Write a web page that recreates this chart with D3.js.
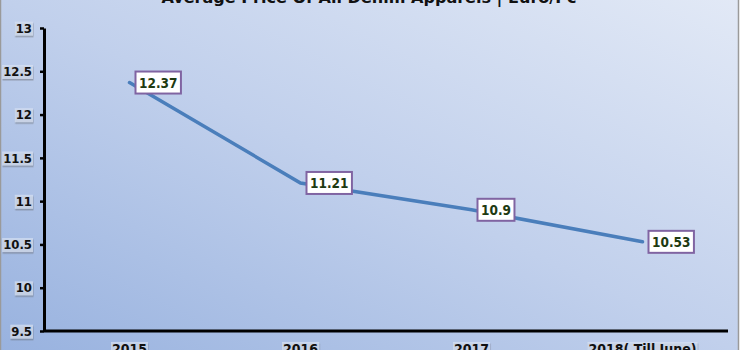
<!DOCTYPE html>
<html>
<head>
<meta charset="utf-8">
<script src="https://cdn.jsdelivr.net/npm/d3@7"></script>
<style>
body { margin: 0; background: #fff; }
svg { display: block; }
</style>
</head>
<body>
<svg></svg>
<script>
var title = 'Average Price Of All Denim Apparels | Euro/Pc';
var years = ['2015', '2016', '2017', '2018( Till June)'];
var prices = [12.37, 11.21, 10.9, 10.53];
var yTicks = [9.5, 10, 10.5, 11, 11.5, 12, 12.5, 13];

var width = 740, height = 350;
var font = '"DejaVu Sans Condensed", "DejaVu Sans", sans-serif';

let svg = d3.select('svg').attr('width', width).attr('height', height);

// background gradient + drop shadow for the label chips
let defs = svg.append('defs');
let grad = defs.append('linearGradient')
	.attr('id', 'bg')
	.attr('x1', '0').attr('y1', '1')
	.attr('x2', '1').attr('y2', '0');
grad.append('stop').attr('offset', '0').attr('stop-color', '#98b2df');
grad.append('stop').attr('offset', '0.5').attr('stop-color', '#c1d0ec');
grad.append('stop').attr('offset', '1').attr('stop-color', '#e2e9f6');

defs.append('filter')
	.attr('id', 'chip')
	.attr('x', '-20%').attr('y', '-20%')
	.attr('width', '150%').attr('height', '160%')
	.append('feDropShadow')
	.attr('dx', 0.5).attr('dy', 1.5)
	.attr('stdDeviation', 0.7)
	.attr('flood-color', '#555')
	.attr('flood-opacity', 0.6);

svg.append('rect')
	.attr('x', 0.5).attr('y', -2)
	.attr('width', 738).attr('height', height + 4)
	.attr('fill', 'url(#bg)')
	.attr('stroke', '#9a9a9a')
	.attr('stroke-width', 1.5);

// title (cut off at the top like the original)
svg.append('text')
	.attr('x', 369).attr('y', 3)
	.attr('text-anchor', 'middle')
	.attr('textLength', 415)
	.attr('lengthAdjust', 'spacingAndGlyphs')
	.style('font-family', font)
	.style('font-weight', 'bold')
	.style('font-size', '15px')
	.attr('fill', '#111')
	.text(title);

// scales
let x = d3.scaleBand().domain(years).range([44, 728]);
let y = d3.scaleLinear().domain([9.5, 13]).range([331, 28]);
let cx = (d) => x(d) + x.bandwidth() / 2;

// axes
let yAxis = svg.append('g')
	.attr('transform', 'translate(44,0)')
	.call(d3.axisLeft(y).tickValues(yTicks).tickFormat((d) => d).tickSize(4).tickSizeOuter(0).tickPadding(8));

let xAxis = svg.append('g')
	.attr('transform', 'translate(0,331)')
	.call(d3.axisBottom(x).tickSize(0).tickSizeOuter(0).tickPadding(13));

[yAxis, xAxis].forEach((g) => {
	g.select('.domain').attr('stroke', '#000').attr('stroke-width', 3);
	g.selectAll('.tick line').attr('stroke', '#000').attr('stroke-width', 2.5);
	g.selectAll('.tick text')
		.attr('fill', '#111')
		.style('font-family', font)
		.style('font-weight', 'bold')
		.style('font-size', '13px');
});
xAxis.selectAll('.tick text').style('font-size', '14px');
xAxis.select('.domain').attr('d', 'M44,0H728');

// light chips behind the tick labels
svg.selectAll('.tick').each(function() {
	let t = d3.select(this).select('text');
	let b = t.node().getBBox();
	d3.select(this).insert('rect', 'text')
		.attr('x', b.x - 1).attr('y', b.y + 1)
		.attr('width', b.width + 2).attr('height', b.height - 1)
		.attr('fill', '#d9e2f3')
		.attr('fill-opacity', 0.7)
		.attr('filter', 'url(#chip)');
});

// line
let pts = years.map((d, i) => ({ year: d, value: prices[i] }));

svg.append('path')
	.datum(pts)
	.attr('fill', 'none')
	.attr('stroke', '#4a7ebb')
	.attr('stroke-width', 3.5)
	.attr('stroke-linecap', 'round')
	.attr('d', d3.line().x((d) => cx(d.year)).y((d) => y(d.value)));

// value labels
let labels = svg.selectAll('.val')
	.data(pts)
	.enter()
	.append('g')
	.attr('class', 'val')
	.attr('transform', (d) => 'translate(' + (cx(d.year) + 6) + ',' + y(d.value) + ')');

labels.append('text')
	.attr('x', 20).attr('y', 0)
	.attr('dy', '0.37em')
	.attr('text-anchor', 'middle')
	.style('font-family', font)
	.style('font-weight', 'bold')
	.style('font-size', '13.5px')
	.attr('fill', '#1e3a12')
	.text((d) => d.value);

labels.each(function() {
	let g = d3.select(this);
	let b = g.select('text').node().getBBox();
	let w = b.width + 7;
	g.insert('rect', 'text')
		.attr('x', 0).attr('y', -11)
		.attr('width', w).attr('height', 22)
		.attr('fill', '#fff')
		.attr('stroke', '#8064a2')
		.attr('stroke-width', 2);
	g.select('text').attr('x', w / 2);
});
</script>
</body>
</html>
